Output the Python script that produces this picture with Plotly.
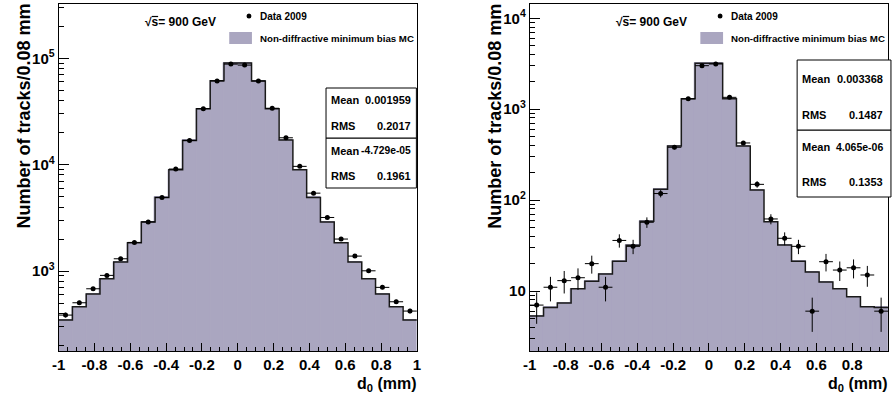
import numpy as np
import plotly.graph_objects as go

W, H = 892, 397

# ---------------- data ----------------
n_bins = 26
x_min, x_max = -1.0, 1.0

mc_left = [347, 462, 608, 847, 1215, 1845, 2885, 4920, 8980, 16900, 33600, 61600, 90200,
           90200, 61200, 33600, 17100, 8980, 4920, 2885, 1845, 1215, 847, 608, 462, 347]
data_left = [386, 504, 682, 911, 1305, 1860, 2900, 4920, 9100, 16900, 33600, 61200, 88100,
             86300, 61200, 33900, 17900, 9640, 5400, 3190, 2000, 1383, 1006, 703, 515, 421]

mc_right = [5.3, 6.6, 7.4, 10.6, 12.8, 15.4, 21.2, 31.8, 58.5, 132, 394, 1306, 3200,
            3200, 1306, 394, 129, 57.8, 32, 21.2, 16.2, 12.6, 10.6, 8.65, 6.7, 6.6]
data_right = [7, 11, 13, 14, 20, 11, 36, 31, 57, 118, 381, 1300, 3010,
              3140, 1350, 425, 149, 62, 38, 31, 6, 21, 17, 18, 15, 6]

x_tick_vals = [-1, -0.8, -0.6, -0.4, -0.2, 0, 0.2, 0.4, 0.6, 0.8, 1]
x_tick_text = ["-1", "-0.8", "-0.6", "-0.4", "-0.2", "0", "0.2", "0.4", "0.6", "0.8", "1"]

left_y_vals = [1e3, 1e4, 1e5]
left_y_text = ["10<sup>3</sup>", "10<sup>4</sup>", "10<sup>5</sup>"]
right_y_vals = [10, 100, 1000, 10000]
right_y_text = ["10", "10<sup>2</sup>", "10<sup>3</sup>", "10<sup>4</sup>"]

stats_left_labels = ["Mean", "RMS", "Mean", "RMS"]
stats_left_values = ["0.001959", "0.2017", "-4.729e-05", "0.1961"]
stats_right_labels = ["Mean", "RMS", "Mean", "RMS"]
stats_right_values = ["0.003368", "0.1487", "4.065e-06", "0.1353"]

energy_label = "√s= 900 GeV"
data_label = "Data 2009"
mc_label = "Non-diffractive minimum bias MC"
y_title = "Number of tracks/0.08 mm"
x_title = "d<sub>0</sub> (mm)"

# ---------------- styling ----------------
FILL = "#aaa6c0"
FONT = "Liberation Sans"

bin_edges = np.linspace(x_min, x_max, n_bins + 1)
bin_centers = 0.5 * (bin_edges[:-1] + bin_edges[1:])
bin_width = (x_max - x_min) / n_bins

minor_x = [v for v in np.round(np.arange(-1, 1.0001, 0.05), 3) if round(v * 5, 6) != round(v * 5)]


def log_minor(lo, hi):
    out = []
    for e in range(lo, hi + 1):
        for m in range(2, 10):
            out.append(m * 10 ** e)
    return out


def px(x):
    return x / W


def py(y):
    return 1 - y / H


fig = go.Figure()

panels = [
    dict(xa="x", ya="y", mc=mc_left, data=data_left),
    dict(xa="x2", ya="y2", mc=mc_right, data=data_right),
]

for p in panels:
    fig.add_trace(go.Bar(x=bin_centers, y=p["mc"], width=bin_width,
                         marker=dict(color=FILL, line=dict(width=1, color=FILL)),
                         xaxis=p["xa"], yaxis=p["ya"], hoverinfo="skip"))
    fig.add_trace(go.Scatter(x=bin_edges, y=list(p["mc"]) + [p["mc"][-1]], mode="lines",
                             line=dict(shape="hv", color="#1a1a1a", width=1.5),
                             xaxis=p["xa"], yaxis=p["ya"], hoverinfo="skip"))
    fig.add_trace(go.Scatter(x=bin_centers, y=p["data"], mode="markers",
                             marker=dict(color="black", size=5),
                             error_y=dict(type="data", array=np.sqrt(p["data"]), color="black",
                                          thickness=1, width=0),
                             error_x=dict(type="constant", value=bin_width / 2, color="black",
                                          thickness=1, width=0),
                             xaxis=p["xa"], yaxis=p["ya"]))

tickfont = dict(family=FONT, size=15, color="black", weight="bold")

xcommon = dict(range=[-1, 1], tickmode="array", tickvals=x_tick_vals, ticktext=x_tick_text,
               ticks="inside", ticklen=8, tickwidth=1, tickcolor="black",
               showline=True, mirror=True, linecolor="black", linewidth=1,
               showgrid=False, zeroline=False, tickfont=tickfont,
               minor=dict(tickmode="array", tickvals=minor_x, ticks="inside", ticklen=4,
                          tickwidth=1, tickcolor="black", showgrid=False))

ydom = [py(351), py(4)]

fig.update_layout(
    width=W, height=H, margin=dict(l=0, r=0, t=0, b=0),
    paper_bgcolor="white", plot_bgcolor="white", showlegend=False, bargap=0,
    xaxis=dict(domain=[px(52.3), px(415)], anchor="y", **xcommon),
    xaxis2=dict(domain=[px(529.3), 1.0], anchor="y2", **xcommon),
    yaxis=dict(domain=ydom, anchor="x", type="log", range=[2.249, 5.51],
               tickmode="array", tickvals=left_y_vals, ticktext=left_y_text,
               ticks="inside", ticklen=10, tickwidth=1, tickcolor="black",
               showline=True, mirror=True, linecolor="black", linewidth=1,
               showgrid=False, zeroline=False, tickfont=tickfont,
               minor=dict(tickmode="array", tickvals=log_minor(2, 5), ticks="inside",
                          ticklen=5, tickwidth=1, tickcolor="black", showgrid=False)),
    yaxis2=dict(domain=ydom, anchor="x2", type="log", range=[0.34, 4.157],
                tickmode="array", tickvals=right_y_vals, ticktext=right_y_text,
                ticks="inside", ticklen=10, tickwidth=1, tickcolor="black",
                showline=True, mirror=True, linecolor="black", linewidth=1,
                showgrid=False, zeroline=False, tickfont=tickfont,
                minor=dict(tickmode="array", tickvals=log_minor(0, 4), ticks="inside",
                           ticklen=5, tickwidth=1, tickcolor="black", showgrid=False)),
)

annotations = []
shapes = []


def text(x, y, s, size, xanchor="left", yanchor="middle", angle=0):
    annotations.append(dict(x=px(x), y=py(y), xref="paper", yref="paper", text=s,
                            showarrow=False, xanchor=xanchor, yanchor=yanchor,
                            textangle=angle, borderpad=0, borderwidth=0,
                            font=dict(family=FONT, size=size, color="black", weight="bold")))


for off, (x_ax_left, x_ax_right) in [(0, (52.3, 415)), (477, (529.3, 892))]:
    text(140 + off, 21.5, energy_label, 12)
    shapes.append(dict(type="line", xref="paper", yref="paper",
                       x0=px(146.5 + off), x1=px(153 + off), y0=py(16.5), y1=py(16.5),
                       line=dict(color="black", width=1.2)))
    shapes.append(dict(type="circle", xref="paper", yref="paper",
                       x0=px(242.5 + off), x1=px(247.5 + off), y0=py(18.5), y1=py(13.5),
                       fillcolor="black", line=dict(width=0)))
    text(256 + off, 16.3, data_label, 10)
    shapes.append(dict(type="rect", xref="paper", yref="paper",
                       x0=px(225 + off), x1=px(248 + off), y0=py(44), y1=py(32),
                       fillcolor=FILL, line=dict(width=0)))
    text(256 + off, 38.8, mc_label, 9.7)
    text(x_ax_left - 36, 4, y_title, 18, xanchor="center", yanchor="top", angle=-90)
    text(x_ax_right, 384, x_title, 16, xanchor="right")


def stats_box(x0, x1, y0, ymid, y1, labels, values, ys, lx, rx):
    shapes.append(dict(type="rect", xref="paper", yref="paper", x0=px(x0), x1=px(x1),
                       y0=py(y1), y1=py(ymid), fillcolor="white",
                       line=dict(color="black", width=1)))
    shapes.append(dict(type="rect", xref="paper", yref="paper", x0=px(x0), x1=px(x1),
                       y0=py(ymid), y1=py(y0), fillcolor="white",
                       line=dict(color="black", width=1)))
    for lab, val, yy in zip(labels, values, ys):
        text(lx, yy, lab, 11)
        size = 11 if len(val) <= 8 else (10.5 if len(val) == 9 else 10.3)
        text(rx, yy, val, size, xanchor="right")


stats_box(323, 414.5, 88, 138, 188, stats_left_labels, stats_left_values,
          [100, 126, 150.5, 176], 328, 409.5)
stats_box(800, 895, 60, 130, 197, stats_right_labels, stats_right_values,
          [79.5, 114.5, 146.5, 181.5], 805, 887)

fig.update_layout(annotations=annotations, shapes=shapes)

fig.write_html("out.html", config={"displayModeBar": False},
               post_script="document.body.style.margin='0';document.body.style.overflow='hidden';")
